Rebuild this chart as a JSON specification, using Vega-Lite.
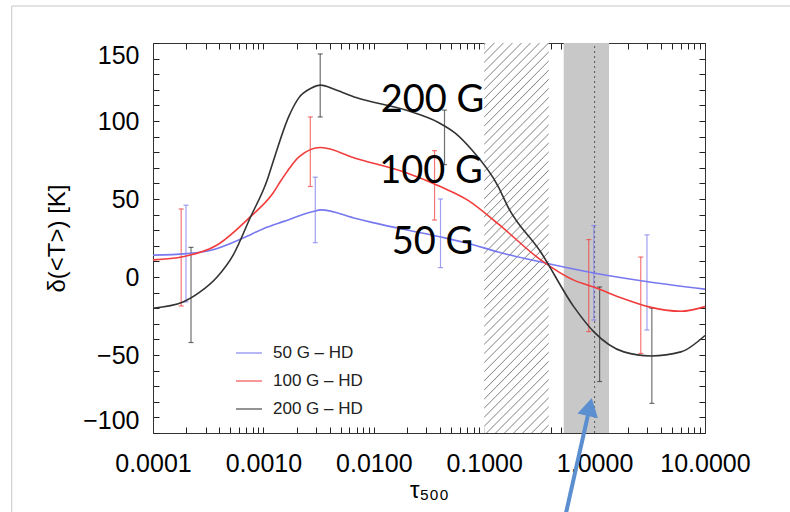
{
  "$schema": "https://vega.github.io/schema/vega-lite/v6.json",
  "width": 552,
  "height": 390,
  "autosize": {"type": "none"},
  "padding": {"left": 153, "top": 43, "right": 85, "bottom": 79},
  "background": "white",
  "config": {"view": {"stroke": null}, "axis": {"grid": false}},
  "datasets": {
    "curves": [
      {"s": "50 G – HD", "t": 0.0001, "v": 14}, {"s": "50 G – HD", "t": 0.0002, "v": 15}, {"s": "50 G – HD", "t": 0.000329, "v": 17}, {"s": "50 G – HD", "t": 0.000656, "v": 25}, {"s": "50 G – HD", "t": 0.001, "v": 31}, {"s": "50 G – HD", "t": 0.00151, "v": 35.5}, {"s": "50 G – HD", "t": 0.00283, "v": 42}, {"s": "50 G – HD", "t": 0.0033, "v": 43}, {"s": "50 G – HD", "t": 0.0069, "v": 37.5}, {"s": "50 G – HD", "t": 0.0096, "v": 35}, {"s": "50 G – HD", "t": 0.0385, "v": 26}, {"s": "50 G – HD", "t": 0.072, "v": 21.5}, {"s": "50 G – HD", "t": 0.134, "v": 16}, {"s": "50 G – HD", "t": 0.325, "v": 9.6}, {"s": "50 G – HD", "t": 0.98, "v": 2.6}, {"s": "50 G – HD", "t": 3.04, "v": -3}, {"s": "50 G – HD", "t": 10, "v": -7.8},
      {"s": "100 G – HD", "t": 0.0001, "v": 11}, {"s": "100 G – HD", "t": 0.000187, "v": 13}, {"s": "100 G – HD", "t": 0.000381, "v": 20.5}, {"s": "100 G – HD", "t": 0.000759, "v": 38.5}, {"s": "100 G – HD", "t": 0.0012, "v": 53}, {"s": "100 G – HD", "t": 0.00145, "v": 62}, {"s": "100 G – HD", "t": 0.0021, "v": 77}, {"s": "100 G – HD", "t": 0.0033, "v": 83}, {"s": "100 G – HD", "t": 0.0069, "v": 76}, {"s": "100 G – HD", "t": 0.0194, "v": 67}, {"s": "100 G – HD", "t": 0.04, "v": 58}, {"s": "100 G – HD", "t": 0.072, "v": 49}, {"s": "100 G – HD", "t": 0.134, "v": 34}, {"s": "100 G – HD", "t": 0.325, "v": 11}, {"s": "100 G – HD", "t": 0.647, "v": -2}, {"s": "100 G – HD", "t": 0.98, "v": -6.4}, {"s": "100 G – HD", "t": 1.84, "v": -14}, {"s": "100 G – HD", "t": 3.04, "v": -19}, {"s": "100 G – HD", "t": 6.05, "v": -22}, {"s": "100 G – HD", "t": 10, "v": -19},
      {"s": "200 G – HD", "t": 0.0001, "v": -20}, {"s": "200 G – HD", "t": 0.000187, "v": -16}, {"s": "200 G – HD", "t": 0.000267, "v": -9.6}, {"s": "200 G – HD", "t": 0.000381, "v": 0}, {"s": "200 G – HD", "t": 0.000532, "v": 14}, {"s": "200 G – HD", "t": 0.000759, "v": 38}, {"s": "200 G – HD", "t": 0.00108, "v": 62}, {"s": "200 G – HD", "t": 0.0012, "v": 72}, {"s": "200 G – HD", "t": 0.0017, "v": 103}, {"s": "200 G – HD", "t": 0.0021, "v": 115}, {"s": "200 G – HD", "t": 0.0027, "v": 121}, {"s": "200 G – HD", "t": 0.0033, "v": 123}, {"s": "200 G – HD", "t": 0.0045, "v": 120}, {"s": "200 G – HD", "t": 0.0069, "v": 115}, {"s": "200 G – HD", "t": 0.0194, "v": 107}, {"s": "200 G – HD", "t": 0.0385, "v": 99}, {"s": "200 G – HD", "t": 0.055, "v": 92}, {"s": "200 G – HD", "t": 0.076, "v": 82}, {"s": "200 G – HD", "t": 0.134, "v": 58}, {"s": "200 G – HD", "t": 0.164, "v": 45}, {"s": "200 G – HD", "t": 0.325, "v": 16}, {"s": "200 G – HD", "t": 0.647, "v": -19}, {"s": "200 G – HD", "t": 0.98, "v": -35}, {"s": "200 G – HD", "t": 1.84, "v": -48}, {"s": "200 G – HD", "t": 3.24, "v": -50.6}, {"s": "200 G – HD", "t": 6.05, "v": -48}, {"s": "200 G – HD", "t": 10, "v": -37.5}
    ],
    "err": [
      {"s": "100 G – HD", "t": 0.00018, "lo": -18.6, "hi": 43.6},
      {"s": "50 G – HD", "t": 0.000199, "lo": -16, "hi": 46},
      {"s": "200 G – HD", "t": 0.000221, "lo": -42, "hi": 19},
      {"s": "100 G – HD", "t": 0.00266, "lo": 58, "hi": 102.6},
      {"s": "50 G – HD", "t": 0.00295, "lo": 22, "hi": 64},
      {"s": "200 G – HD", "t": 0.00327, "lo": 102.6, "hi": 143},
      {"s": "100 G – HD", "t": 0.0355, "lo": 36.5, "hi": 81},
      {"s": "50 G – HD", "t": 0.0402, "lo": 6, "hi": 50},
      {"s": "200 G – HD", "t": 0.0437, "lo": 72, "hi": 107},
      {"s": "100 G – HD", "t": 0.885, "lo": -35, "hi": 24},
      {"s": "50 G – HD", "t": 0.984, "lo": -27.6, "hi": 33},
      {"s": "200 G – HD", "t": 1.11, "lo": -67, "hi": -6.4},
      {"s": "100 G – HD", "t": 2.62, "lo": -49, "hi": 12.8},
      {"s": "50 G – HD", "t": 2.98, "lo": -34, "hi": 27},
      {"s": "200 G – HD", "t": 3.3, "lo": -81, "hi": -20}
    ],
    "labels": [
      {"label": "200 G", "t": 0.034, "v": 112.8},
      {"label": "100 G", "t": 0.033, "v": 67.3},
      {"label": "50 G", "t": 0.034, "v": 21.8}
    ],
    "hatch": [{"a": 0.1, "b": 0.384}],
    "band": [{"a": 0.525, "b": 1.35}],
    "dotted": [{"t": 1}],
    "arrow": [{"t": 0.548, "v": -152, "t2": 0.904, "v2": -83.3}],
    "head": [{"t": 0.904, "v": -83.3}],
    "border": [
      {"t": 0.00000525, "v": 173.7, "t2": 60, "v2": 173.7},
      {"t": 0.00000525, "v": 173.7, "t2": 0.00000525, "v2": -152}
    ]
  },
  "resolve": {"axis": {"x": "independent", "y": "independent"}},
  "layer": [
    {
      "data": {"name": "hatch"},
      "mark": {"type": "rect", "fill": {"gradient": "linear", "x1": 0, "y1": 0, "x2": 0.189, "y2": 1.135, "stops": [
        {"offset":0,"color":"#fff"},{"offset":0.0025,"color":"#8c8c8c"},{"offset":0.005,"color":"#fff"},
        {"offset":0.02,"color":"#fff"},{"offset":0.0225,"color":"#8c8c8c"},{"offset":0.025,"color":"#fff"},
        {"offset":0.04,"color":"#fff"},{"offset":0.0425,"color":"#8c8c8c"},{"offset":0.045,"color":"#fff"},
        {"offset":0.06,"color":"#fff"},{"offset":0.0625,"color":"#8c8c8c"},{"offset":0.065,"color":"#fff"},
        {"offset":0.08,"color":"#fff"},{"offset":0.0825,"color":"#8c8c8c"},{"offset":0.085,"color":"#fff"},
        {"offset":0.1,"color":"#fff"},{"offset":0.1025,"color":"#8c8c8c"},{"offset":0.105,"color":"#fff"},
        {"offset":0.12,"color":"#fff"},{"offset":0.1225,"color":"#8c8c8c"},{"offset":0.125,"color":"#fff"},
        {"offset":0.14,"color":"#fff"},{"offset":0.1425,"color":"#8c8c8c"},{"offset":0.145,"color":"#fff"},
        {"offset":0.16,"color":"#fff"},{"offset":0.1625,"color":"#8c8c8c"},{"offset":0.165,"color":"#fff"},
        {"offset":0.18,"color":"#fff"},{"offset":0.1825,"color":"#8c8c8c"},{"offset":0.185,"color":"#fff"},
        {"offset":0.2,"color":"#fff"},{"offset":0.2025,"color":"#8c8c8c"},{"offset":0.205,"color":"#fff"},
        {"offset":0.22,"color":"#fff"},{"offset":0.2225,"color":"#8c8c8c"},{"offset":0.225,"color":"#fff"},
        {"offset":0.24,"color":"#fff"},{"offset":0.2425,"color":"#8c8c8c"},{"offset":0.245,"color":"#fff"},
        {"offset":0.26,"color":"#fff"},{"offset":0.2625,"color":"#8c8c8c"},{"offset":0.265,"color":"#fff"},
        {"offset":0.28,"color":"#fff"},{"offset":0.2825,"color":"#8c8c8c"},{"offset":0.285,"color":"#fff"},
        {"offset":0.3,"color":"#fff"},{"offset":0.3025,"color":"#8c8c8c"},{"offset":0.305,"color":"#fff"},
        {"offset":0.32,"color":"#fff"},{"offset":0.3225,"color":"#8c8c8c"},{"offset":0.325,"color":"#fff"},
        {"offset":0.34,"color":"#fff"},{"offset":0.3425,"color":"#8c8c8c"},{"offset":0.345,"color":"#fff"},
        {"offset":0.36,"color":"#fff"},{"offset":0.3625,"color":"#8c8c8c"},{"offset":0.365,"color":"#fff"},
        {"offset":0.38,"color":"#fff"},{"offset":0.3825,"color":"#8c8c8c"},{"offset":0.385,"color":"#fff"},
        {"offset":0.4,"color":"#fff"},{"offset":0.4025,"color":"#8c8c8c"},{"offset":0.405,"color":"#fff"},
        {"offset":0.42,"color":"#fff"},{"offset":0.4225,"color":"#8c8c8c"},{"offset":0.425,"color":"#fff"},
        {"offset":0.44,"color":"#fff"},{"offset":0.4425,"color":"#8c8c8c"},{"offset":0.445,"color":"#fff"},
        {"offset":0.46,"color":"#fff"},{"offset":0.4625,"color":"#8c8c8c"},{"offset":0.465,"color":"#fff"},
        {"offset":0.48,"color":"#fff"},{"offset":0.4825,"color":"#8c8c8c"},{"offset":0.485,"color":"#fff"},
        {"offset":0.5,"color":"#fff"},{"offset":0.5025,"color":"#8c8c8c"},{"offset":0.505,"color":"#fff"},
        {"offset":0.52,"color":"#fff"},{"offset":0.5225,"color":"#8c8c8c"},{"offset":0.525,"color":"#fff"},
        {"offset":0.54,"color":"#fff"},{"offset":0.5425,"color":"#8c8c8c"},{"offset":0.545,"color":"#fff"},
        {"offset":0.56,"color":"#fff"},{"offset":0.5625,"color":"#8c8c8c"},{"offset":0.565,"color":"#fff"},
        {"offset":0.58,"color":"#fff"},{"offset":0.5825,"color":"#8c8c8c"},{"offset":0.585,"color":"#fff"},
        {"offset":0.6,"color":"#fff"},{"offset":0.6025,"color":"#8c8c8c"},{"offset":0.605,"color":"#fff"},
        {"offset":0.62,"color":"#fff"},{"offset":0.6225,"color":"#8c8c8c"},{"offset":0.625,"color":"#fff"},
        {"offset":0.64,"color":"#fff"},{"offset":0.6425,"color":"#8c8c8c"},{"offset":0.645,"color":"#fff"},
        {"offset":0.66,"color":"#fff"},{"offset":0.6625,"color":"#8c8c8c"},{"offset":0.665,"color":"#fff"},
        {"offset":0.68,"color":"#fff"},{"offset":0.6825,"color":"#8c8c8c"},{"offset":0.685,"color":"#fff"},
        {"offset":0.7,"color":"#fff"},{"offset":0.7025,"color":"#8c8c8c"},{"offset":0.705,"color":"#fff"},
        {"offset":0.72,"color":"#fff"},{"offset":0.7225,"color":"#8c8c8c"},{"offset":0.725,"color":"#fff"},
        {"offset":0.74,"color":"#fff"},{"offset":0.7425,"color":"#8c8c8c"},{"offset":0.745,"color":"#fff"},
        {"offset":0.76,"color":"#fff"},{"offset":0.7625,"color":"#8c8c8c"},{"offset":0.765,"color":"#fff"},
        {"offset":0.78,"color":"#fff"},{"offset":0.7825,"color":"#8c8c8c"},{"offset":0.785,"color":"#fff"},
        {"offset":0.8,"color":"#fff"},{"offset":0.8025,"color":"#8c8c8c"},{"offset":0.805,"color":"#fff"},
        {"offset":0.82,"color":"#fff"},{"offset":0.8225,"color":"#8c8c8c"},{"offset":0.825,"color":"#fff"},
        {"offset":0.84,"color":"#fff"},{"offset":0.8425,"color":"#8c8c8c"},{"offset":0.845,"color":"#fff"},
        {"offset":0.86,"color":"#fff"},{"offset":0.8625,"color":"#8c8c8c"},{"offset":0.865,"color":"#fff"},
        {"offset":0.88,"color":"#fff"},{"offset":0.8825,"color":"#8c8c8c"},{"offset":0.885,"color":"#fff"},
        {"offset":0.9,"color":"#fff"},{"offset":0.9025,"color":"#8c8c8c"},{"offset":0.905,"color":"#fff"},
        {"offset":0.92,"color":"#fff"},{"offset":0.9225,"color":"#8c8c8c"},{"offset":0.925,"color":"#fff"},
        {"offset":0.94,"color":"#fff"},{"offset":0.9425,"color":"#8c8c8c"},{"offset":0.945,"color":"#fff"},
        {"offset":0.96,"color":"#fff"},{"offset":0.9625,"color":"#8c8c8c"},{"offset":0.965,"color":"#fff"},
        {"offset":0.98,"color":"#fff"},{"offset":0.9825,"color":"#8c8c8c"},{"offset":0.985,"color":"#fff"},
        {"offset":1,"color":"#fff"}
      ]}},
      "encoding": {
        "x": {"field": "a", "type": "quantitative", "scale": {"type": "log", "domain": [0.0001, 10], "nice": false},
          "axis": {
            "orient": "bottom",
            "ticks": true,
            "values": [0.0001,0.0002,0.0003,0.0004,0.0005,0.0006,0.0007,0.0008,0.0009,0.001,0.002,0.003,0.004,0.005,0.006,0.007,0.008,0.009,0.01,0.02,0.03,0.04,0.05,0.06,0.07,0.08,0.09,0.1,0.2,0.3,0.4,0.5,0.6,0.7,0.8,0.9,1,2,3,4,5,6,7,8,9,10],
            "labelExpr": "abs(log(datum.value)/LN10 - round(log(datum.value)/LN10)) < 0.01 ? format(datum.value, '.4f') : ''",
            "labelFlush": false,
            "labelOverlap": false,
            "labelFont": "Liberation Sans",
            "labelFontSize": 25,
            "labelColor": "#000",
            "labelPadding": 24,
            "tickSize": -6,
            "tickWidth": 1,
            "tickColor": "#222",
            "domainColor": "#333",
            "title": "τ₅₀₀",
            "titleFont": "Liberation Sans",
            "titleFontSize": 24,
            "titleFontWeight": "normal",
            "titleColor": "#000",
            "titlePadding": 2
          }},
        "x2": {"field": "b"},
        "y": {"datum": -100, "type": "quantitative", "scale": {"domain": [-100, 150], "nice": false, "zero": false}, "axis": null},
        "y2": {"datum": 150}
      }
    },
    {
      "data": {"name": "band"},
      "mark": {"type": "rect", "fill": "#c8c8c8"},
      "encoding": {
        "x": {"field": "a", "type": "quantitative", "scale": {"type": "log", "domain": [0.0001, 10], "nice": false}, "axis": null},
        "x2": {"field": "b"},
        "y": {"datum": -100, "type": "quantitative", "scale": {"domain": [-100, 150], "nice": false, "zero": false}, "axis": null},
        "y2": {"datum": 150}
      }
    },
    {
      "data": {"name": "dotted"},
      "mark": {"type": "rule", "color": "#555", "strokeDash": [2, 3], "strokeWidth": 1},
      "encoding": {
        "x": {"field": "t", "type": "quantitative", "scale": {"type": "log", "domain": [0.0001, 10], "nice": false}, "axis": null},
        "y": {"datum": -100, "type": "quantitative", "scale": {"domain": [-100, 150], "nice": false, "zero": false}, "axis": null},
        "y2": {"datum": 150}
      }
    },
    {
      "mark": {"type": "rule", "color": "#555", "strokeDash": [7, 5], "strokeWidth": 1},
      "encoding": {
        "y": {"datum": 0, "type": "quantitative", "scale": {"domain": [-100, 150], "nice": false, "zero": false},
          "axis": {
            "orient": "left",
            "ticks": true,
            "values": [-100,-90,-80,-70,-60,-50,-40,-30,-20,-10,0,10,20,30,40,50,60,70,80,90,100,110,120,130,140,150],
            "labelExpr": "datum.value % 50 === 0 ? datum.label : ''",
            "labelFlush": true,
            "labelOverlap": false,
            "labelFont": "Liberation Sans",
            "labelFontSize": 25,
            "labelColor": "#000",
            "labelPadding": 20,
            "tickSize": -6,
            "tickWidth": 1,
            "tickColor": "#222",
            "domainColor": "#333",
            "title": "δ(<T>) [K]",
            "titleFont": "Liberation Sans",
            "titleFontSize": 24,
            "titleFontWeight": "normal",
            "titleColor": "#000",
            "titlePadding": 13
          }}
      }
    },
    {
      "data": {"name": "err"},
      "mark": {"type": "rule", "strokeWidth": 1.2, "opacity": 0.7},
      "encoding": {
        "x": {"field": "t", "type": "quantitative", "scale": {"type": "log", "domain": [0.0001, 10], "nice": false}, "axis": null},
        "y": {"field": "lo", "type": "quantitative", "scale": {"domain": [-100, 150], "nice": false, "zero": false}, "axis": null},
        "y2": {"field": "hi"},
        "color": {"field": "s", "type": "nominal"}
      }
    },
    {
      "data": {"name": "err"},
      "mark": {"type": "tick", "orient": "horizontal", "size": 5, "thickness": 1.2, "opacity": 0.7},
      "encoding": {
        "x": {"field": "t", "type": "quantitative", "scale": {"type": "log", "domain": [0.0001, 10], "nice": false}, "axis": null},
        "y": {"field": "lo", "type": "quantitative", "scale": {"domain": [-100, 150], "nice": false, "zero": false}, "axis": null},
        "color": {"field": "s", "type": "nominal"}
      }
    },
    {
      "data": {"name": "err"},
      "mark": {"type": "tick", "orient": "horizontal", "size": 5, "thickness": 1.2, "opacity": 0.7},
      "encoding": {
        "x": {"field": "t", "type": "quantitative", "scale": {"type": "log", "domain": [0.0001, 10], "nice": false}, "axis": null},
        "y": {"field": "hi", "type": "quantitative", "scale": {"domain": [-100, 150], "nice": false, "zero": false}, "axis": null},
        "color": {"field": "s", "type": "nominal"}
      }
    },
    {
      "data": {"name": "curves"},
      "mark": {"type": "line", "interpolate": "monotone", "strokeWidth": 1.6},
      "encoding": {
        "x": {"field": "t", "type": "quantitative", "scale": {"type": "log", "domain": [0.0001, 10], "nice": false},
          "axis": {
            "orient": "top",
            "ticks": true,
            "values": [0.0001,0.0002,0.0003,0.0004,0.0005,0.0006,0.0007,0.0008,0.0009,0.001,0.002,0.003,0.004,0.005,0.006,0.007,0.008,0.009,0.01,0.02,0.03,0.04,0.05,0.06,0.07,0.08,0.09,0.1,0.2,0.3,0.4,0.5,0.6,0.7,0.8,0.9,1,2,3,4,5,6,7,8,9,10],
            "labels": false,
            "tickSize": -6,
            "tickWidth": 1,
            "tickColor": "#222",
            "domainColor": "#333",
            "title": null
          }},
        "y": {"field": "v", "type": "quantitative", "scale": {"domain": [-100, 150], "nice": false, "zero": false},
          "axis": {
            "orient": "right",
            "ticks": true,
            "values": [-100,-90,-80,-70,-60,-50,-40,-30,-20,-10,0,10,20,30,40,50,60,70,80,90,100,110,120,130,140,150],
            "labels": false,
            "tickSize": -6,
            "tickWidth": 1,
            "tickColor": "#222",
            "domainColor": "#333",
            "title": null
          }},
        "color": {"field": "s", "type": "nominal",
          "scale": {"domain": ["50 G – HD", "100 G – HD", "200 G – HD"], "range": ["#7878f0", "#f23c3c", "#333333"]},
          "legend": {
            "orient": "none", "legendX": 82, "legendY": 296, "title": null, "padding": 0,
            "symbolType": "stroke", "symbolSize": 676, "symbolStrokeWidth": 1.5,
            "labelFont": "Liberation Sans", "labelFontSize": 17, "labelColor": "#222",
            "labelOffset": 10, "rowPadding": 6
          }}
      }
    },
    {
      "data": {"name": "labels"},
      "mark": {"type": "text", "font": "Lato", "fontSize": 38, "color": "#000", "align": "center", "baseline": "middle"},
      "encoding": {
        "x": {"field": "t", "type": "quantitative", "scale": {"type": "log", "domain": [0.0001, 10], "nice": false}, "axis": null},
        "y": {"field": "v", "type": "quantitative", "scale": {"domain": [-100, 150], "nice": false, "zero": false}, "axis": null},
        "text": {"field": "label"}
      }
    },
    {
      "data": {"name": "arrow"},
      "mark": {"type": "rule", "color": "#5b8fd0", "strokeWidth": 4},
      "encoding": {
        "x": {"field": "t", "type": "quantitative", "scale": {"type": "log", "domain": [0.0001, 10], "nice": false}, "axis": null},
        "x2": {"field": "t2"},
        "y": {"field": "v", "type": "quantitative", "scale": {"domain": [-100, 150], "nice": false, "zero": false}, "axis": null},
        "y2": {"field": "v2"}
      }
    },
    {
      "data": {"name": "head"},
      "mark": {"type": "point", "shape": "triangle-up", "filled": true, "size": 440, "angle": 13, "color": "#5b8fd0", "opacity": 1},
      "encoding": {
        "x": {"field": "t", "type": "quantitative", "scale": {"type": "log", "domain": [0.0001, 10], "nice": false}, "axis": null},
        "y": {"field": "v", "type": "quantitative", "scale": {"domain": [-100, 150], "nice": false, "zero": false}, "axis": null}
      }
    },
    {
      "data": {"name": "border"},
      "mark": {"type": "rule", "color": "#c8c8c8", "strokeWidth": 1},
      "encoding": {
        "x": {"field": "t", "type": "quantitative", "scale": {"type": "log", "domain": [0.0001, 10], "nice": false}, "axis": null},
        "x2": {"field": "t2"},
        "y": {"field": "v", "type": "quantitative", "scale": {"domain": [-100, 150], "nice": false, "zero": false}, "axis": null},
        "y2": {"field": "v2"}
      }
    }
  ]
}
